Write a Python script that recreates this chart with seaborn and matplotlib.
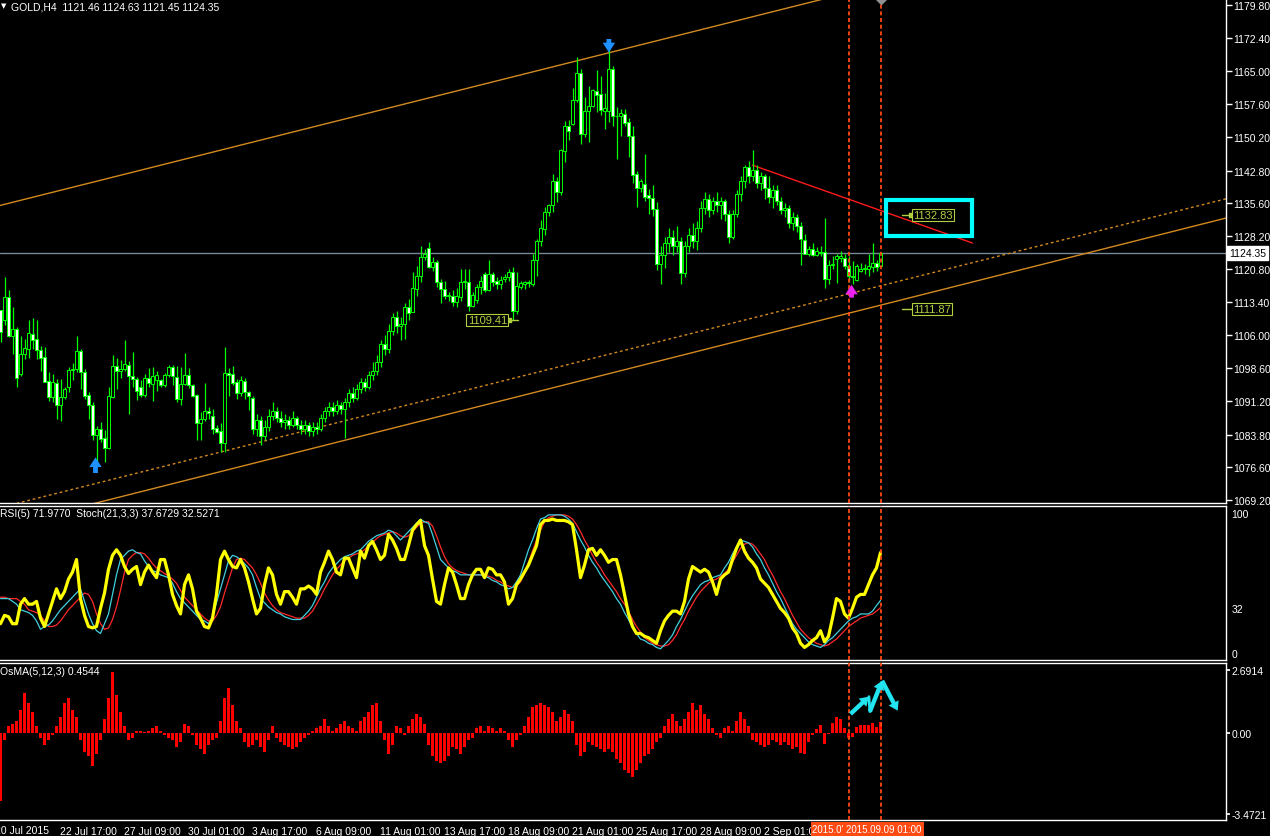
import numpy as np
import matplotlib
matplotlib.use("Agg")
import matplotlib.pyplot as plt
import matplotlib.transforms as mtransforms
from matplotlib.patches import Rectangle
import seaborn as sns

# ---------------- data (GOLD H4, one value per bar) ----------------
opens = [
    1111.7, 1109.3, 1114.5, 1105.9, 1107.4, 1097.3, 1101.8, 1103.0, 1106.2, 1105.2,
    1102.7, 1101.1, 1095.7, 1092.3, 1095.3, 1090.5, 1092.1, 1094.4, 1098.3, 1098.5,
    1102.5, 1097.7, 1092.7, 1090.3, 1083.6, 1085.1, 1083.0, 1080.8, 1092.1, 1099.1,
    1097.9, 1098.4, 1099.4, 1096.8, 1096.2, 1094.4, 1092.7, 1096.5, 1095.1, 1095.9,
    1096.0, 1094.8, 1097.0, 1099.0, 1096.6, 1091.8, 1095.0, 1097.0, 1094.9, 1092.7,
    1086.3, 1087.2, 1089.0, 1087.9, 1085.2, 1084.5, 1081.9, 1097.5, 1097.4, 1095.5,
    1093.0, 1095.7, 1093.4, 1092.0, 1085.0, 1087.0, 1083.5, 1085.5, 1088.0, 1089.0,
    1087.5, 1086.5, 1087.0, 1086.0, 1087.5, 1086.0, 1085.0, 1086.0, 1084.5, 1085.5,
    1085.0, 1087.5, 1089.0, 1090.0, 1089.0, 1090.5, 1089.5, 1091.0, 1093.0, 1092.0,
    1094.0, 1095.5, 1094.5, 1097.0, 1098.0, 1100.0, 1104.0, 1103.0, 1107.0, 1110.0,
    1108.0, 1108.5, 1112.2, 1111.2, 1116.3, 1119.2, 1123.4, 1125.4, 1121.2, 1122.3,
    1117.8, 1116.3, 1114.7, 1114.8, 1113.5, 1114.5, 1117.8, 1118.0, 1112.6, 1113.9,
    1116.7, 1119.7, 1116.0, 1119.7, 1118.2, 1117.4, 1118.6, 1118.9, 1120.1, 1111.5,
    1116.8, 1117.4, 1117.8, 1117.4, 1122.7, 1127.1, 1129.7, 1133.5, 1135.0, 1140.5,
    1137.9, 1147.2, 1152.7, 1153.2, 1158.6, 1164.5, 1151.0, 1156.0, 1157.2, 1160.5,
    1159.9, 1156.2, 1156.2, 1165.6, 1154.9, 1154.9, 1155.4, 1153.6, 1150.6, 1142.0,
    1138.8, 1139.9, 1137.3, 1136.6, 1134.2, 1122.0, 1124.0, 1126.5, 1128.0, 1126.0,
    1127.0, 1120.0, 1126.0, 1128.5, 1127.0, 1130.0, 1134.5, 1136.5, 1134.0, 1136.0,
    1135.0, 1136.0, 1133.0, 1128.0, 1133.0, 1137.5, 1140.5, 1143.5, 1141.5, 1143.0,
    1140.0, 1141.5, 1139.0, 1137.0, 1138.5, 1136.0, 1134.0, 1134.5, 1131.0, 1132.5,
    1130.5, 1127.3, 1124.2, 1125.3, 1123.9, 1124.7, 1124.5, 1118.6, 1121.6, 1123.1,
    1123.2, 1123.2, 1121.4, 1119.3, 1118.4, 1120.4, 1120.8, 1120.7, 1121.2, 1122.2,
    1121.46]
highs = [
    1111.7, 1119.0, 1116.1, 1112.3, 1107.8, 1105.8, 1105.2, 1109.4, 1109.8, 1109.3,
    1103.5, 1103.4, 1097.7, 1097.4, 1096.2, 1096.2, 1094.4, 1098.9, 1099.8, 1105.8,
    1103.0, 1098.5, 1093.3, 1091.0, 1085.8, 1086.6, 1084.8, 1094.5, 1101.6, 1100.9,
    1100.5, 1105.0, 1100.2, 1102.3, 1096.6, 1095.9, 1097.4, 1098.7, 1099.0, 1098.1,
    1096.2, 1097.5, 1099.4, 1099.4, 1099.2, 1099.0, 1102.1, 1098.6, 1095.1, 1092.9,
    1088.8, 1095.3, 1089.9, 1089.5, 1086.0, 1086.4, 1103.3, 1098.7, 1099.1, 1096.2,
    1096.8, 1096.4, 1093.6, 1092.5, 1088.5, 1088.0, 1087.0, 1089.5, 1091.0, 1090.0,
    1089.0, 1088.5, 1088.0, 1089.0, 1088.0, 1087.0, 1087.0, 1086.5, 1086.5, 1086.5,
    1088.5, 1090.0, 1091.0, 1091.0, 1091.5, 1091.0, 1092.0, 1094.0, 1094.5, 1095.0,
    1096.5, 1096.5, 1098.0, 1100.0, 1101.5, 1105.0, 1106.0, 1108.5, 1111.0, 1111.5,
    1110.0, 1113.1, 1114.1, 1120.1, 1121.5, 1125.9, 1125.3, 1126.9, 1123.4, 1122.7,
    1118.6, 1118.2, 1115.6, 1116.0, 1116.5, 1120.8, 1120.9, 1120.8, 1115.6, 1117.4,
    1119.3, 1120.1, 1122.9, 1120.1, 1118.9, 1119.3, 1119.7, 1120.8, 1121.2, 1120.1,
    1118.2, 1118.2, 1118.4, 1124.1, 1127.5, 1131.8, 1134.6, 1135.3, 1142.0, 1141.3,
    1147.6, 1153.8, 1154.1, 1161.2, 1168.1, 1165.5, 1159.2, 1161.8, 1161.0, 1165.3,
    1164.0, 1160.1, 1170.3, 1166.2, 1156.9, 1156.6, 1156.6, 1154.5, 1152.7, 1142.8,
    1140.9, 1146.5, 1138.6, 1139.6, 1135.7, 1126.0, 1128.0, 1130.0, 1129.5, 1130.5,
    1128.0, 1127.0, 1130.0, 1131.0, 1131.5, 1136.0, 1138.0, 1137.5, 1137.0, 1138.0,
    1137.0, 1136.5, 1134.0, 1134.0, 1138.5, 1141.5, 1144.0, 1145.0, 1147.5, 1144.0,
    1142.5, 1142.0, 1141.5, 1139.5, 1139.5, 1137.0, 1135.5, 1135.0, 1133.5, 1133.0,
    1131.2, 1128.6, 1125.9, 1126.6, 1125.7, 1125.9, 1132.2, 1122.7, 1123.6, 1124.2,
    1124.8, 1124.2, 1123.8, 1122.5, 1121.9, 1122.2, 1121.9, 1124.2, 1126.6, 1122.9,
    1124.63]
lows = [
    1104.4, 1108.2, 1105.6, 1101.8, 1094.4, 1096.8, 1100.7, 1100.9, 1103.0, 1100.7,
    1098.1, 1095.5, 1091.4, 1091.0, 1087.2, 1086.9, 1091.8, 1093.3, 1095.9, 1097.7,
    1094.0, 1091.8, 1087.3, 1082.5, 1077.6, 1082.1, 1077.6, 1080.6, 1092.0, 1094.0,
    1096.4, 1098.1, 1088.3, 1094.4, 1091.6, 1092.3, 1092.1, 1094.5, 1091.4, 1093.6,
    1094.5, 1094.5, 1096.6, 1094.8, 1091.0, 1090.3, 1094.8, 1094.2, 1092.2, 1082.5,
    1082.5, 1086.9, 1087.3, 1084.0, 1084.1, 1079.9, 1079.9, 1092.5, 1094.8, 1091.8,
    1092.5, 1091.8, 1089.2, 1084.0, 1083.5, 1081.5, 1082.5, 1084.5, 1087.0, 1086.5,
    1085.5, 1085.0, 1085.0, 1085.5, 1085.0, 1084.0, 1084.0, 1083.5, 1083.5, 1084.0,
    1084.5, 1086.5, 1088.0, 1088.0, 1088.5, 1088.5, 1083.0, 1090.0, 1091.0, 1091.5,
    1093.0, 1093.5, 1094.0, 1096.0, 1097.0, 1099.0, 1101.5, 1102.0, 1106.0, 1106.5,
    1105.0, 1105.2, 1109.3, 1111.5, 1114.8, 1117.8, 1122.7, 1121.0, 1120.4, 1116.7,
    1113.3, 1114.1, 1113.7, 1112.6, 1112.2, 1113.7, 1116.3, 1111.5, 1112.2, 1113.3,
    1115.2, 1115.6, 1115.9, 1117.1, 1116.3, 1116.3, 1117.8, 1118.2, 1109.4, 1110.7,
    1116.3, 1116.3, 1116.7, 1117.1, 1119.3, 1126.0, 1128.5, 1132.7, 1133.6, 1135.8,
    1137.3, 1144.8, 1149.7, 1153.0, 1158.2, 1148.7, 1150.2, 1149.1, 1157.0, 1155.8,
    1155.2, 1152.1, 1153.6, 1152.8, 1145.4, 1150.6, 1152.7, 1145.8, 1140.0, 1134.6,
    1137.9, 1136.1, 1133.2, 1132.7, 1120.5, 1117.5, 1121.0, 1124.5, 1124.0, 1124.5,
    1117.5, 1119.0, 1124.5, 1125.5, 1125.0, 1129.0, 1133.0, 1132.5, 1133.0, 1133.5,
    1132.0, 1131.5, 1126.5, 1127.5, 1132.5, 1136.0, 1139.0, 1140.0, 1140.5, 1139.0,
    1138.5, 1136.5, 1135.5, 1134.5, 1135.0, 1133.0, 1132.5, 1130.0, 1129.5, 1129.0,
    1121.6, 1124.1, 1123.8, 1123.8, 1123.8, 1123.8, 1116.5, 1117.5, 1120.7, 1117.7,
    1122.3, 1120.7, 1117.8, 1117.5, 1118.2, 1120.1, 1119.7, 1119.3, 1120.1, 1120.4,
    1121.45]
closes = [
    1106.7, 1114.5, 1105.9, 1107.4, 1096.4, 1101.8, 1103.2, 1106.4, 1105.0, 1102.6,
    1100.9, 1095.6, 1092.3, 1095.5, 1090.5, 1092.1, 1094.0, 1098.3, 1098.5, 1102.5,
    1097.7, 1092.5, 1090.3, 1083.6, 1085.1, 1082.8, 1080.8, 1092.5, 1099.1, 1097.9,
    1098.5, 1099.6, 1096.8, 1096.2, 1093.6, 1092.7, 1096.5, 1095.3, 1096.9, 1097.1,
    1094.9, 1097.1, 1099.0, 1096.8, 1091.8, 1095.1, 1097.0, 1094.8, 1092.5, 1086.3,
    1087.3, 1089.0, 1088.6, 1085.1, 1084.3, 1081.9, 1097.5, 1097.1, 1095.3, 1093.0,
    1096.0, 1093.3, 1092.4, 1085.0, 1087.0, 1083.5, 1085.5, 1088.0, 1089.0, 1087.5,
    1086.5, 1087.0, 1086.0, 1087.5, 1086.0, 1085.0, 1086.0, 1084.5, 1085.5, 1085.0,
    1087.5, 1089.0, 1090.0, 1089.0, 1090.5, 1089.5, 1091.0, 1093.0, 1092.0, 1094.0,
    1095.5, 1094.5, 1097.0, 1098.0, 1100.0, 1104.0, 1103.0, 1107.0, 1110.0, 1108.0,
    1108.5, 1112.2, 1111.0, 1116.5, 1119.2, 1123.4, 1124.1, 1121.2, 1122.3, 1117.8,
    1116.3, 1114.7, 1115.0, 1113.5, 1114.8, 1117.8, 1118.2, 1112.6, 1115.0, 1116.7,
    1118.2, 1116.0, 1119.7, 1118.0, 1117.4, 1118.3, 1118.9, 1120.1, 1111.5, 1117.1,
    1117.6, 1117.8, 1117.6, 1122.7, 1127.1, 1130.0, 1133.6, 1135.0, 1140.5, 1137.9,
    1147.4, 1152.7, 1151.7, 1158.6, 1164.5, 1151.0, 1156.0, 1157.2, 1160.8, 1159.7,
    1156.4, 1156.8, 1165.6, 1154.9, 1155.1, 1155.7, 1153.4, 1150.5, 1141.9, 1138.8,
    1140.4, 1137.0, 1136.6, 1134.2, 1122.0, 1124.0, 1126.5, 1128.0, 1126.0, 1127.0,
    1120.0, 1126.0, 1128.5, 1127.0, 1130.0, 1134.5, 1136.5, 1134.0, 1136.0, 1135.0,
    1136.0, 1133.0, 1128.0, 1133.0, 1137.5, 1140.5, 1143.5, 1141.5, 1143.0, 1140.0,
    1141.5, 1139.0, 1137.0, 1138.5, 1136.0, 1134.0, 1134.5, 1131.0, 1132.5, 1130.5,
    1127.5, 1124.2, 1125.3, 1123.9, 1124.9, 1124.3, 1118.6, 1121.7, 1121.9, 1123.8,
    1123.6, 1121.4, 1119.2, 1119.0, 1121.4, 1120.8, 1121.0, 1121.4, 1122.2, 1121.2,
    1124.35]

rsi = [
    21, 27, 26, 21, 21, 35, 39, 35, 35, 37,
    25, 19, 28, 37, 46, 39, 44, 53, 58, 67,
    39, 27, 19, 18, 19, 32, 43, 60, 70, 74,
    70, 62, 57, 60, 62, 49, 58, 63, 58, 54,
    67, 67, 56, 42, 34, 28, 49, 56, 46, 30,
    25, 19, 18, 25, 42, 67, 73, 67, 62, 61,
    67, 61, 51, 39, 28, 32, 49, 61, 56, 42,
    35, 44, 44, 40, 35, 46, 46, 48, 46, 42,
    58, 65, 73, 67, 58, 56, 68, 68, 61, 54,
    73, 68, 77, 80, 74, 67, 70, 85, 81, 75,
    67, 67, 77, 88, 92, 95, 77, 70, 53, 37,
    35, 49, 61, 58, 49, 39, 39, 49, 56, 60,
    60, 54, 61, 60, 56, 56, 51, 35, 39, 49,
    53, 58, 63, 70, 77, 92, 95, 95, 96, 95,
    95, 95, 94, 92, 74, 54, 63, 74, 75, 70,
    74, 70, 65, 67, 67, 56, 42, 28, 19, 14,
    14, 12, 11, 9, 7, 16, 23, 27, 30, 30,
    28, 37, 53, 62, 60, 58, 60, 58, 51, 42,
    53, 56, 58, 67, 75, 81, 73, 68, 65, 61,
    53, 50, 47, 42, 37, 32, 29, 25, 18, 14,
    7, 4, 6, 9, 11, 16, 8, 12, 25, 39,
    37, 28, 25, 32, 40, 42, 42, 49, 56, 61,
    71.977]
stoch_main = [
    39, 39, 39, 37, 35, 31, 30, 29, 27, 23,
    17, 19, 20, 23, 27, 31, 34, 37, 40, 43,
    46, 37, 28, 21, 16, 14, 21, 28, 42, 56,
    67, 70, 73, 74, 72, 71, 66, 62, 59, 58,
    56, 55, 54, 50, 44, 39, 36, 33, 30, 27,
    24, 23, 21, 26, 36, 46, 56, 66, 70, 69,
    67, 64, 61, 56, 47, 39, 36, 33, 31, 29,
    28, 26, 25, 24, 24, 24, 27, 30, 34, 40,
    46, 51, 57, 61, 64, 67, 69, 70, 71, 73,
    74, 77, 80, 82, 84, 85, 86, 88, 87, 84,
    81, 84, 87, 90, 93, 96, 94, 93, 85, 76,
    67, 64, 61, 59, 58, 56, 56, 56, 56, 56,
    56, 55, 54, 52, 51, 49, 48, 46, 47, 51,
    56, 65, 74, 81, 89, 96, 97, 99, 99, 99,
    99, 98, 96, 93, 87, 81, 76, 70, 65, 61,
    56, 52, 48, 44, 39, 35, 29, 24, 18, 14,
    10, 9, 7, 6, 4, 3, 6, 9, 13, 19,
    24, 30, 36, 41, 45, 49, 51, 52, 54, 55,
    56, 61, 65, 71, 76, 81, 80, 79, 76, 71,
    67, 61, 56, 50, 44, 39, 33, 27, 21, 17,
    14, 11, 8, 6, 5, 4, 6, 9, 11, 14,
    17, 20, 23, 25, 26, 28, 28, 28, 30, 34,
    37.6729]
stoch_signal = [
    40, 40, 39, 39, 39, 37, 35, 31, 30, 29,
    27, 23, 19, 19, 20, 23, 27, 31, 34, 37,
    40, 43, 42, 37, 28, 21, 17, 18, 24, 33,
    45, 58, 67, 70, 72, 72, 71, 68, 64, 61,
    59, 57, 55, 53, 50, 45, 40, 37, 34, 31,
    28, 25, 23, 23, 27, 33, 43, 52, 61, 67,
    68, 67, 64, 61, 56, 50, 43, 38, 34, 31,
    29, 28, 27, 26, 25, 25, 25, 27, 30, 35,
    40, 46, 51, 56, 60, 63, 66, 68, 70, 71,
    72, 74, 77, 79, 82, 84, 85, 86, 87, 86,
    84, 83, 84, 87, 90, 93, 94, 94, 91, 84,
    76, 69, 64, 61, 59, 58, 57, 56, 56, 56,
    56, 56, 55, 54, 52, 51, 49, 48, 47, 48,
    51, 57, 65, 73, 81, 88, 94, 97, 98, 99,
    99, 99, 98, 96, 92, 87, 81, 76, 70, 65,
    61, 56, 52, 48, 44, 39, 35, 30, 24, 19,
    15, 11, 9, 7, 6, 5, 5, 6, 9, 13,
    19, 24, 30, 35, 40, 44, 47, 50, 52, 53,
    55, 57, 60, 65, 70, 75, 78, 79, 78, 75,
    71, 67, 61, 56, 50, 44, 39, 33, 27, 22,
    17, 14, 11, 9, 7, 6, 5, 6, 8, 10,
    13, 16, 19, 21, 23, 25, 26, 27, 28, 30,
    32.5271]
osma = [
    -2.9, -0.3, 0.3, 0.4, 0.5, 1.0, 1.7, 1.3, 0.9, 0.3,
    -0.2, -0.5, -0.3, -0.1, 0.3, 0.7, 1.3, 1.5, 1.0, 0.7,
    -0.3, -0.8, -1.0, -1.4, -0.9, -0.3, 0.6, 1.5, 2.6, 1.6,
    0.9, 0.3, -0.3, -0.2, 0.1, 0.1, 0.05, 0.1, 0.2, 0.3,
    0.1, -0.1, -0.2, -0.3, -0.6, -0.4, 0.4, 0.3, -0.1, -0.5,
    -0.7, -0.9, -0.5, -0.3, -0.2, 0.5, 1.5, 1.9, 1.2, 0.5,
    0.2, -0.4, -0.6, -0.5, -0.3, -0.6, -0.8, -0.3, 0.3, -0.2,
    -0.4, -0.5, -0.6, -0.7, -0.6, -0.4, -0.2, -0.1, 0.1, 0.2,
    0.3, 0.6, 0.3, 0.1, 0.2, 0.4, 0.5, 0.3, 0.2, 0.1,
    0.5, 0.7, 0.9, 1.2, 1.3, 0.5, -0.3, -0.9, -0.5, 0.3,
    0.2, -0.1, 0.3, 0.6, 0.8, 0.7, 0.4, -0.5, -1.0, -1.2,
    -1.3, -1.2, -1.0, -0.6, -0.7, -0.9, -0.6, -0.3, -0.2, 0.2,
    0.3, 0.1, 0.3, 0.2, 0.1, 0.2, 0.1, -0.3, -0.6, -0.3,
    -0.1, 0.3, 0.7, 1.1, 1.2, 1.3, 1.2, 1.1, 0.9, 0.5,
    0.7, 1.0, 0.8, 0.5, -0.5, -1.0, -0.8, -0.4, -0.5, -0.6,
    -0.7, -0.8, -0.7, -0.8, -1.1, -1.3, -1.6, -1.7, -1.9, -1.6,
    -1.3, -1.0, -0.9, -0.7, -0.4, -0.2, 0.3, 0.6, 0.8, 0.5,
    0.3, 0.6, 0.9, 1.3, 1.0, 1.2, 0.8, 0.6, 0.2, -0.1,
    -0.2, 0.2, 0.3, 0.1, 0.5, 0.9, 0.6, 0.3, -0.3, -0.4,
    -0.5, -0.6, -0.5, -0.3, -0.4, -0.5, -0.4, -0.5, -0.7, -0.6,
    -0.87, -0.90, -0.41, -0.11, 0.17, 0.34, -0.46, -0.03, 0.43, 0.68,
    0.60, 0.21, -0.20, -0.16, 0.26, 0.34, 0.34, 0.34, 0.43, 0.26,
    0.4544]

price_ticks = [1179.80, 1172.40, 1165.00, 1157.60, 1150.20, 1142.80, 1135.60, 1128.20,
               1120.80, 1113.40, 1106.00, 1098.60, 1091.20, 1083.80, 1076.60, 1069.20]
first_time_label = "20 Jul 2015"
time_tick_bars = [15, 31, 47, 63, 79, 95, 111, 127, 143, 159, 175, 191]
time_tick_labels = ["22 Jul 17:00", "27 Jul 09:00", "30 Jul 01:00", "3 Aug 17:00",
                    "6 Aug 09:00", "11 Aug 01:00", "13 Aug 17:00", "18 Aug 09:00", "21 Aug 01:00",
                    "25 Aug 17:00", "28 Aug 09:00", "2 Sep 01:00"]
vline_bars = [212, 220]
vline_label = "2015.0' 2015.09.09 01:00"
bid_price = 1124.35

# drawn objects (bar index, price)
channel_upper_x, channel_upper_y = [-1, 210], [1134.8, 1182.1]
channel_mid_x, channel_mid_y = [4, 310], [1068.4, 1137.3]
channel_lower_x, channel_lower_y = [23, 310], [1068.3, 1133.0]
trend_red_x, trend_red_y = [188, 243], [1144.0, 1126.6]
box_x, box_y = [221.4, 242.9], [1128.2, 1136.2]
label_prices = [1132.83, 1111.87, 1109.41]

# ---------------- style ----------------
W, H = 1270, 837
sns.set_theme(style="dark", rc={
    "figure.facecolor": "black", "axes.facecolor": "black", "savefig.facecolor": "black",
    "axes.edgecolor": "white", "text.color": "white", "xtick.color": "white",
    "ytick.color": "white", "axes.grid": False, "axes.linewidth": 1.0,
})
plt.rcParams['font.family'] = ['Liberation Sans Narrow', 'Liberation Sans', 'DejaVu Sans']

fig = plt.figure(figsize=(W / 100, H / 100), dpi=100)


def axes_px(top, bottom, right=1226):
    return fig.add_axes([0, 1 - bottom / H, right / W, (bottom - top) / H])


def ftext(x, y, s, **kw):
    kw.setdefault("va", "center")
    return fig.text(x / W, 1 - y / H, s, **kw)


ax_main = axes_px(0, 504)
ax_rsi = axes_px(506.5, 661)
ax_osma = axes_px(664, 821)

XLIM = (-0.125, -0.125 + 1226 / 4)
for ax in (ax_main, ax_rsi, ax_osma):
    ax.set_facecolor("black")
    ax.set_xlim(*XLIM)
    ax.grid(False)
    ax.spines["left"].set_visible(False)
    for s in ("right", "top", "bottom"):
        ax.spines[s].set_color("white")
        ax.spines[s].set_linewidth(1.0)
    ax.yaxis.tick_right()
ax_main.spines["top"].set_visible(False)

idx = np.arange(len(closes))
o, h, l, c = map(np.asarray, (opens, highs, lows, closes))

# ---------------- main price panel ----------------
ax_main.set_ylim(1068.50, 1181.14)
ax_main.axhline(bid_price, color="#778899", lw=1.0, zorder=1)

orange = "#d4891f"
sns.lineplot(x=channel_upper_x, y=channel_upper_y, ax=ax_main, color=orange, lw=1.0,
             estimator=None, sort=False, legend=False)
sns.lineplot(x=channel_lower_x, y=channel_lower_y, ax=ax_main, color=orange, lw=1.0,
             estimator=None, sort=False, legend=False)
sns.lineplot(x=channel_mid_x, y=channel_mid_y, ax=ax_main, color=orange, lw=1.0,
             linestyle=(0, (2, 2)), estimator=None, sort=False, legend=False)
sns.lineplot(x=trend_red_x, y=trend_red_y, ax=ax_main, color="#ff1a1a", lw=1.0,
             estimator=None, sort=False, legend=False)

lo = np.minimum(l, np.minimum(o, c))
hi = np.maximum(h, np.maximum(o, c))
ax_main.vlines(idx, lo, hi, color="#00ff00", lw=0.9, zorder=3)
bull = c >= o
body = np.maximum(np.abs(c - o), 0.15)
bot = np.minimum(o, c)
ax_main.bar(idx[bull], body[bull], bottom=bot[bull], width=0.55, color="black",
            edgecolor="#00ff00", linewidth=0.7, zorder=4)
ax_main.bar(idx[~bull], body[~bull], bottom=bot[~bull], width=0.55, color="white",
            edgecolor="#00ff00", linewidth=0.7, zorder=4)

ax_main.add_patch(Rectangle((box_x[0], box_y[0]), box_x[1] - box_x[0], box_y[1] - box_y[0],
                            fill=False, edgecolor="#00ffff", lw=3, zorder=6))

lab_col = "#b0d040"
# 1132.83
ax_main.plot([225.25, 227.3], [label_prices[0]] * 2, color=lab_col, lw=1, zorder=7)
ax_main.plot([227.5], [label_prices[0]], marker="s", ms=2.5, color=lab_col, zorder=7)
ax_main.text(228.1, label_prices[0], f"{label_prices[0]:.2f}", color=lab_col, fontsize=8,
             ha="left", va="center", zorder=8,
             bbox=dict(boxstyle="square,pad=0.12", fc="black", ec=lab_col, lw=0.8))
# 1111.87
ax_main.plot([225.25, 227.75], [label_prices[1]] * 2, color=lab_col, lw=1, zorder=7)
ax_main.text(228.1, label_prices[1], f"{label_prices[1]:.2f}", color=lab_col, fontsize=8,
             ha="left", va="center", zorder=8,
             bbox=dict(boxstyle="square,pad=0.12", fc="black", ec=lab_col, lw=0.8))
# 1109.41
ax_main.plot([127.5, 129.3], [label_prices[2]] * 2, color=lab_col, lw=1, zorder=7)
ax_main.plot([127.0], [label_prices[2]], marker="s", ms=2.5, color=lab_col, zorder=7)
ax_main.text(126.6, label_prices[2], f"{label_prices[2]:.2f}", color=lab_col, fontsize=8,
             ha="right", va="center", zorder=8,
             bbox=dict(boxstyle="square,pad=0.12", fc="black", ec=lab_col, lw=0.8))

arrow_style = "simple,head_length=0.7,head_width=0.9,tail_width=0.35"
def arrow(ax, x0, y0, x1, y1, color, ms=10):
    ax.annotate("", xy=(x1, y1), xytext=(x0, y0),
                arrowprops=dict(arrowstyle=arrow_style, color=color, lw=0,
                                mutation_scale=ms, shrinkA=0, shrinkB=0), zorder=9)

arrow(ax_main, 23.75, 1075.2, 23.75, 1078.7, "#1e90ff")
arrow(ax_main, 152.1, 1172.2, 152.1, 1169.2, "#1e90ff")
arrow(ax_main, 212.75, 1114.4, 212.75, 1117.3, "#ee22ee")
ax_main.plot([220], [1181.14], marker="D", ms=5, color="#909090", clip_on=False, zorder=9)

ax_main.set_yticks(price_ticks)
ax_main.set_yticklabels([f"{v:.2f}" for v in price_ticks])
ax_main.tick_params(axis="y", length=4, width=1, labelsize=7.5, pad=1, direction="out")
ax_main.set_xticks([])

# ---------------- RSI / Stochastic panel ----------------
ax_rsi.set_ylim(-5.0, 105.71)
sns.lineplot(x=idx, y=stoch_signal, ax=ax_rsi, color="#ff2a2a", lw=0.9, estimator=None, legend=False)
sns.lineplot(x=idx, y=stoch_main, ax=ax_rsi, color="#40d0e0", lw=0.9, estimator=None, legend=False)
sns.lineplot(x=idx, y=rsi, ax=ax_rsi, color="#ffff00", lw=2.3, estimator=None, legend=False)
ax_rsi.set_yticks([100, 32, 0])
ax_rsi.set_yticklabels(["100", "32", "0"])
ax_rsi.tick_params(axis="y", length=0, labelsize=7.5, pad=4)
ax_rsi.set_xticks([])

# ---------------- OsMA panel ----------------
ax_osma.set_ylim(-3.730, 2.991)
ax_osma.bar(idx, osma, width=0.6, color="#ff0000", linewidth=0, zorder=3)
ax_osma.set_yticks([2.6914, 0, -3.4721])
ax_osma.set_yticklabels(["2.6914", "0.00", "-3.4721"])
ax_osma.tick_params(axis="y", length=3, labelsize=7.5, pad=1)
ax_osma.set_xticks(time_tick_bars)
ax_osma.set_xticklabels(time_tick_labels, ha="left")
ax_osma.tick_params(axis="x", length=3.5, width=1, labelsize=7.5, pad=1, direction="out")

trans = mtransforms.blended_transform_factory(ax_osma.transData, ax_osma.transAxes)
# first (partly cut-off) time label, starting left of the picture edge
ax_osma.text(-1.3, -0.035, first_time_label, transform=trans, ha="left", va="top",
             fontsize=7.5, color="white", clip_on=False)

cyan = "#22e4f0"
arrow(ax_osma, 212.5, 0.81, 217.1, 1.55, cyan, ms=9)
sns.lineplot(x=[217.1, 217.35], y=[1.55, 0.91], ax=ax_osma, color=cyan, lw=2,
             estimator=None, sort=False, legend=False)
arrow(ax_osma, 217.35, 0.91, 220.4, 2.23, cyan, ms=9)
arrow(ax_osma, 220.4, 2.23, 224.3, 0.95, cyan, ms=9)

# vertical dashed lines through all panels
for ax in (ax_main, ax_rsi, ax_osma):
    for b in vline_bars:
        ax.axvline(b, color="#ff4a12", lw=1.3, ls=(0, (2.2, 1.5)), zorder=8)

ax_osma.text(203.0, -0.028, vline_label, transform=trans, ha="left", va="top", fontsize=7,
             color="white", zorder=20, clip_on=False,
             bbox=dict(boxstyle="square,pad=0.2", fc="#ff4a12", ec="none"))

# ---------------- texts ----------------
ftext(1, 6.5, "\u25bc", fontsize=5, color="white", family=["DejaVu Sans"])
ftext(11, 7, "GOLD,H4  1121.46 1124.63 1121.45 1124.35", fontsize=7.5, color="white")
ftext(0, 514, "RSI(5) 71.9770  Stoch(21,3,3) 37.6729 32.5271", fontsize=7.5, color="white")
ftext(0, 672, "OsMA(5,12,3) 0.4544", fontsize=7.5, color="white")
ftext(1229, 254, f"{bid_price:.2f}", fontsize=7.5, color="black",
      bbox=dict(boxstyle="square,pad=0.2", fc="white", ec="white"))

fig.savefig("out.png", dpi=100, facecolor="black")
